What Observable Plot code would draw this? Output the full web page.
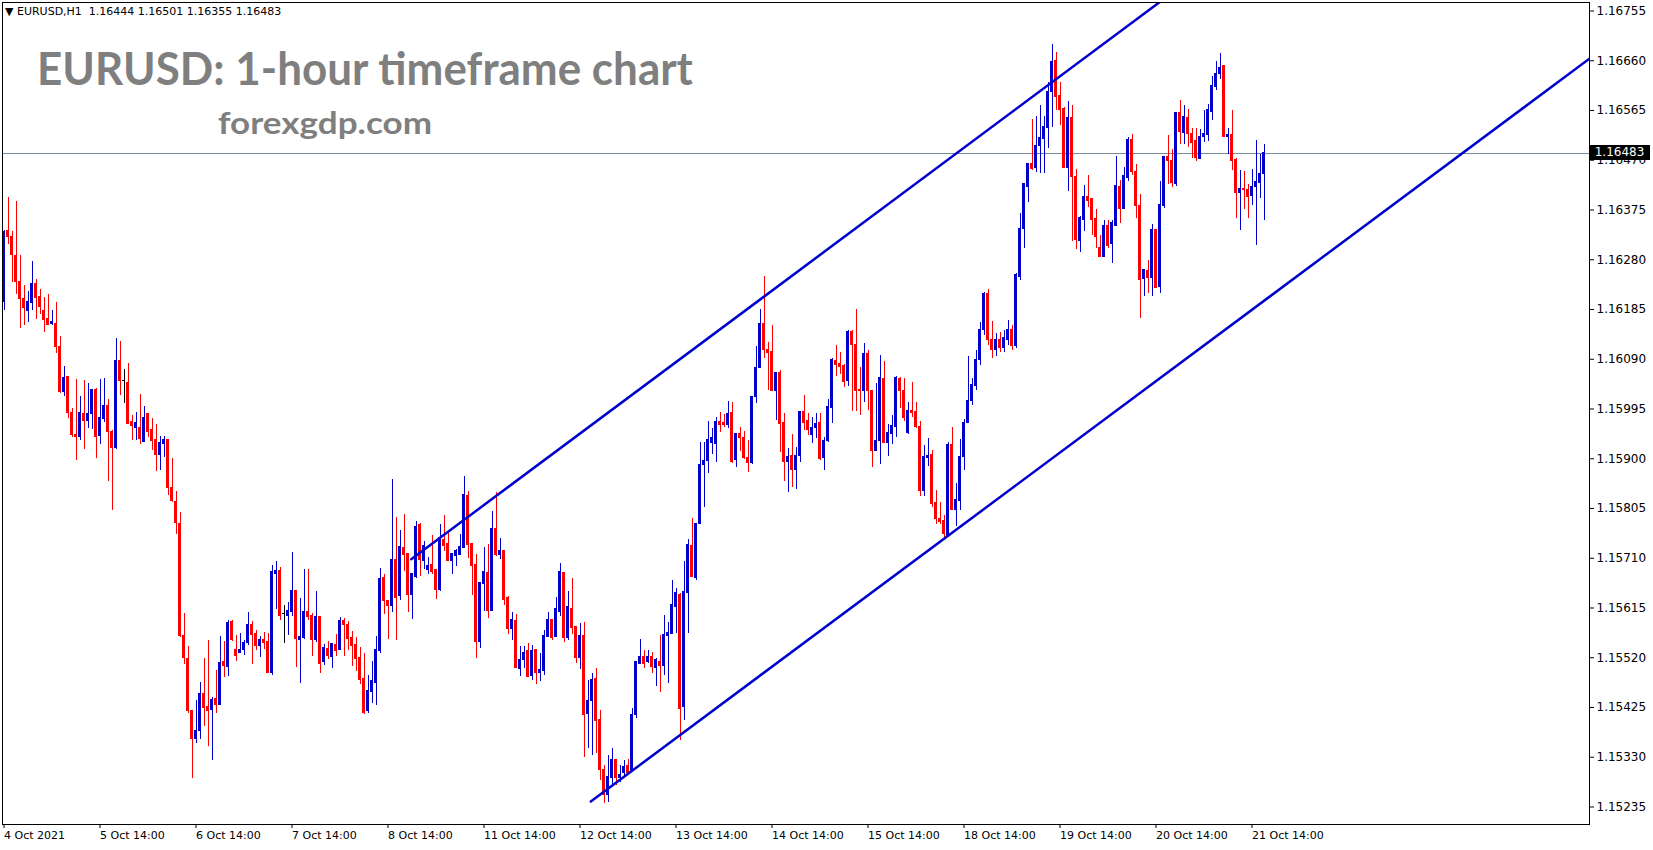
<!DOCTYPE html>
<html><head><meta charset="utf-8">
<script src="https://cdn.jsdelivr.net/npm/d3@7"></script>
<script src="https://cdn.jsdelivr.net/npm/@observablehq/plot@0.6"></script>
<style>
html,body{margin:0;padding:0;background:#fff;}
#wrap{position:relative;width:1653px;height:850px;overflow:hidden;background:#fff;}
#wrap svg{position:absolute;left:0;top:0;}
.ov{position:absolute;white-space:nowrap;transform-origin:0 0;}
#hdr{left:5px;top:5px;font:11px "DejaVu Sans",sans-serif;color:#000;}
#title{left:37px;top:45px;font:700 46px Lato,sans-serif;color:#7f7f7f;line-height:1;}
#site{left:218px;top:107px;font:700 30px Lato,sans-serif;color:#7f7f7f;line-height:1;}
#pbox{left:1589px;width:61px;height:15px;background:#000;color:#fff;font:12px "DejaVu Sans",sans-serif;line-height:15px;text-align:center;}
</style></head><body><div id="wrap">
<div id="hdr" class="ov">▼ EURUSD,H1&nbsp; 1.16444 1.16501 1.16355 1.16483</div>
<div id="title" class="ov">EURUSD: 1-hour timeframe chart</div>
<div id="site" class="ov">forexgdp.com</div>
</div>
<script>
const open = [1.16199,1.16334,1.16323,1.16288,1.16238,1.16205,1.16183,1.16197,1.16233,1.16208,
1.16183,1.16167,1.16157,1.16158,1.16114,1.16028,1.16056,1.15988,1.15945,1.15941,
1.15986,1.15972,1.15986,1.16031,1.15943,1.15975,1.16000,1.15952,1.15921,1.16086,
1.16049,1.16045,1.15971,1.15958,1.15958,1.15932,1.15985,1.15954,1.15935,1.15907,
1.15929,1.15935,1.15844,1.15818,1.15776,1.15562,1.15518,1.15419,1.15364,1.15380,
1.15450,1.15426,1.15421,1.15442,1.15429,1.15512,1.15502,1.15589,1.15535,1.15530,
1.15534,1.15548,1.15583,1.15566,1.15542,1.15553,1.15551,1.15491,1.15679,1.15685,
1.15604,1.15599,1.15608,1.15648,1.15553,1.15558,1.15608,1.15600,1.15553,1.15597,
1.15511,1.15537,1.15522,1.15545,1.15534,1.15591,1.15583,1.15558,1.15545,1.15520,
1.15480,1.15419,1.15455,1.15471,1.15532,1.15673,1.15629,1.15618,1.15707,1.15637,
1.15730,1.15719,1.15639,1.15675,1.15773,1.15705,1.15688,1.15698,1.15688,1.15650,
1.15745,1.15738,1.15704,1.15715,1.15717,1.15730,1.15828,1.15738,1.15698,1.15551,
1.15660,1.15681,1.15610,1.15765,1.15717,1.15723,1.15635,1.15574,1.15591,1.15499,
1.15516,1.15532,1.15486,1.15534,1.15490,1.15494,1.15560,1.15593,1.15560,1.15608,
1.15681,1.15557,1.15614,1.15579,1.15520,1.15562,1.15413,1.15438,1.15480,1.15402,
1.15305,1.15257,1.15291,1.15324,1.15291,1.15299,1.15314,1.15301,1.15410,1.15509,
1.15522,1.15511,1.15522,1.15501,1.15511,1.15505,1.15562,1.15566,1.15616,1.15639,
1.15425,1.15643,1.15734,1.15673,1.15776,1.15889,1.15895,1.15931,1.15929,1.15971,
1.15969,1.15965,1.15988,1.15897,1.15948,1.15939,1.15901,1.15891,1.16017,1.16074,
1.16158,1.16107,1.16103,1.16030,1.16063,1.15969,1.15893,1.15906,1.15878,1.15906,
1.15990,1.15973,1.15946,1.15958,1.15969,1.15901,1.15933,1.15996,1.16086,1.16080,
1.16078,1.16049,1.16142,1.16118,1.16032,1.16029,1.16100,1.16030,1.15914,1.15933,
1.16053,1.15930,1.15947,1.15960,1.16052,1.16030,1.15949,1.15992,1.15989,1.15960,
1.15839,1.15902,1.15908,1.15815,1.15784,1.15782,1.15753,1.15927,1.15803,1.15820,
1.15904,1.15968,1.16011,1.16038,1.16088,1.16145,1.16214,1.16126,1.16107,1.16126,
1.16111,1.16126,1.16145,1.16116,1.16248,1.16338,1.16418,1.16462,1.16455,1.16498,
1.16510,1.16532,1.16601,1.16659,1.16592,1.16567,1.16455,1.16550,1.16438,1.16315,
1.16355,1.16399,1.16396,1.16357,1.16303,1.16286,1.16345,1.16310,1.16345,1.16418,
1.16376,1.16436,1.16508,1.16448,1.16383,1.16244,1.16258,1.16245,1.16336,1.16228,
1.16383,1.16477,1.16468,1.16425,1.16561,1.16522,1.16551,1.16520,1.16506,1.16473,
1.16515,1.16519,1.16562,1.16609,1.16635,1.16650,1.16514,1.16519,1.16471,1.16408,
1.16415,1.16414,1.16401,1.16418,1.16427,1.16444];
const high = [1.16336,1.16399,1.16333,1.16391,1.16288,1.16231,1.16219,1.16277,1.16242,1.16223,
1.16208,1.16213,1.16183,1.16199,1.16133,1.16076,1.16057,1.15996,1.16051,1.16019,
1.16049,1.16043,1.16032,1.16034,1.16051,1.16053,1.16014,1.15953,1.16130,1.16123,
1.16070,1.16082,1.15983,1.15988,1.16023,1.15999,1.15986,1.15977,1.15965,1.15943,
1.15943,1.15937,1.15901,1.15837,1.15797,1.15604,1.15541,1.15419,1.15438,1.15472,
1.15519,1.15552,1.15445,1.15496,1.15560,1.15551,1.15592,1.15591,1.15562,1.15566,
1.15553,1.15607,1.15589,1.15572,1.15560,1.15568,1.15566,1.15697,1.15704,1.15692,
1.15620,1.15625,1.15721,1.15648,1.15633,1.15688,1.15688,1.15604,1.15646,1.15597,
1.15545,1.15551,1.15547,1.15564,1.15597,1.15595,1.15589,1.15570,1.15558,1.15539,
1.15528,1.15486,1.15513,1.15560,1.15690,1.15679,1.15629,1.15860,1.15788,1.15763,
1.15793,1.15719,1.15679,1.15780,1.15776,1.15742,1.15711,1.15753,1.15688,1.15774,
1.15791,1.15757,1.15719,1.15727,1.15755,1.15866,1.15837,1.15738,1.15717,1.15662,
1.15730,1.15736,1.15799,1.15835,1.15748,1.15725,1.15637,1.15606,1.15602,1.15541,
1.15541,1.15547,1.15543,1.15534,1.15528,1.15572,1.15606,1.15593,1.15635,1.15700,
1.15683,1.15646,1.15671,1.15579,1.15585,1.15587,1.15476,1.15490,1.15499,1.15419,
1.15314,1.15333,1.15347,1.15324,1.15314,1.15324,1.15326,1.15423,1.15511,1.15555,
1.15534,1.15534,1.15530,1.15519,1.15562,1.15601,1.15587,1.15667,1.15652,1.15643,
1.15704,1.15746,1.15786,1.15776,1.15931,1.15931,1.15971,1.15958,1.15979,1.15988,
1.15985,1.16009,1.16008,1.15948,1.15960,1.15952,1.15935,1.16019,1.16114,1.16185,
1.16248,1.16122,1.16154,1.16063,1.16068,1.15986,1.15919,1.15946,1.15922,1.15990,
1.16021,1.15986,1.15979,1.15986,1.15986,1.15941,1.16014,1.16092,1.16116,1.16102,
1.16080,1.16145,1.16145,1.16185,1.16075,1.16121,1.16107,1.16030,1.16043,1.16097,
1.16086,1.15966,1.15983,1.16058,1.16056,1.16054,1.16007,1.16045,1.16008,1.15972,
1.15925,1.15939,1.15916,1.15839,1.15817,1.15792,1.15931,1.15960,1.15852,1.15937,
1.15974,1.16095,1.16053,1.16107,1.16160,1.16217,1.16223,1.16162,1.16139,1.16141,
1.16145,1.16164,1.16154,1.16254,1.16368,1.16424,1.16462,1.16548,1.16553,1.16574,
1.16553,1.16619,1.16691,1.16676,1.16619,1.16571,1.16583,1.16574,1.16453,1.16363,
1.16422,1.16441,1.16396,1.16376,1.16326,1.16355,1.16354,1.16355,1.16477,1.16431,
1.16457,1.16514,1.16519,1.16461,1.16404,1.16261,1.16279,1.16347,1.16336,1.16429,
1.16477,1.16517,1.16491,1.16561,1.16584,1.16574,1.16567,1.16530,1.16530,1.16529,
1.16565,1.16576,1.16630,1.16659,1.16673,1.16651,1.16530,1.16565,1.16473,1.16450,
1.16449,1.16424,1.16452,1.16508,1.16481,1.16501];
const low = [1.16183,1.16310,1.16236,1.16214,1.16149,1.16154,1.16160,1.16183,1.16166,1.16175,
1.16142,1.16154,1.16155,1.16101,1.16024,1.16019,1.15977,1.15941,1.15897,1.15934,
1.15918,1.15958,1.15956,1.15900,1.15927,1.15970,1.15857,1.15801,1.15918,1.16021,
1.16005,1.15965,1.15934,1.15935,1.15928,1.15932,1.15941,1.15916,1.15876,1.15878,
1.15903,1.15830,1.15816,1.15755,1.15559,1.15508,1.15413,1.15290,1.15356,1.15364,
1.15389,1.15350,1.15323,1.15414,1.15429,1.15483,1.15485,1.15551,1.15513,1.15530,
1.15524,1.15544,1.15507,1.15534,1.15520,1.15535,1.15491,1.15487,1.15612,1.15592,
1.15548,1.15562,1.15599,1.15501,1.15471,1.15555,1.15591,1.15522,1.15549,1.15490,
1.15505,1.15516,1.15499,1.15522,1.15534,1.15522,1.15534,1.15503,1.15494,1.15469,
1.15411,1.15413,1.15432,1.15429,1.15528,1.15602,1.15555,1.15606,1.15553,1.15629,
1.15685,1.15606,1.15593,1.15671,1.15675,1.15688,1.15679,1.15679,1.15631,1.15646,
1.15723,1.15704,1.15679,1.15694,1.15717,1.15730,1.15709,1.15639,1.15518,1.15537,
1.15608,1.15595,1.15608,1.15713,1.15707,1.15620,1.15564,1.15553,1.15501,1.15484,
1.15499,1.15484,1.15476,1.15469,1.15474,1.15486,1.15560,1.15553,1.15560,1.15599,
1.15549,1.15553,1.15564,1.15509,1.15497,1.15329,1.15346,1.15333,1.15337,1.15286,
1.15242,1.15244,1.15276,1.15276,1.15282,1.15291,1.15297,1.15301,1.15404,1.15509,
1.15499,1.15509,1.15490,1.15465,1.15454,1.15486,1.15471,1.15566,1.15566,1.15362,
1.15400,1.15566,1.15673,1.15667,1.15776,1.15807,1.15872,1.15908,1.15893,1.15950,
1.15960,1.15958,1.15891,1.15883,1.15914,1.15899,1.15874,1.15889,1.16005,1.16074,
1.16091,1.16030,1.16030,1.15973,1.15912,1.15857,1.15836,1.15845,1.15841,1.15893,
1.15954,1.15944,1.15929,1.15938,1.15897,1.15878,1.15931,1.15967,1.16057,1.16061,
1.16037,1.16038,1.15990,1.15991,1.15982,1.16008,1.15992,1.15884,1.15914,1.15889,
1.15930,1.15905,1.15928,1.15941,1.15995,1.15972,1.15947,1.15979,1.15958,1.15827,
1.15828,1.15885,1.15807,1.15775,1.15774,1.15744,1.15750,1.15801,1.15771,1.15801,
1.15878,1.15967,1.16002,1.16030,1.16078,1.16135,1.16116,1.16091,1.16095,1.16103,
1.16103,1.16116,1.16107,1.16111,1.16240,1.16301,1.16390,1.16450,1.16447,1.16445,
1.16445,1.16492,1.16532,1.16565,1.16536,1.16454,1.16411,1.16314,1.16300,1.16294,
1.16334,1.16380,1.16326,1.16301,1.16285,1.16286,1.16302,1.16273,1.16345,1.16350,
1.16376,1.16430,1.16441,1.16358,1.16167,1.16210,1.16215,1.16210,1.16226,1.16215,
1.16377,1.16424,1.16418,1.16420,1.16500,1.16501,1.16495,1.16473,1.16468,1.16473,
1.16504,1.16506,1.16546,1.16603,1.16624,1.16514,1.16481,1.16450,1.16359,1.16336,
1.16375,1.16358,1.16383,1.16307,1.16397,1.16355];
const close = [1.16333,1.16323,1.16290,1.16238,1.16205,1.16187,1.16199,1.16233,1.16207,1.16189,
1.16165,1.16156,1.16161,1.16113,1.16028,1.16055,1.15987,1.15945,1.15941,1.15988,
1.15972,1.15986,1.16032,1.15941,1.15977,1.16001,1.15951,1.15920,1.16086,1.16048,
1.16049,1.15967,1.15962,1.15969,1.15938,1.15977,1.15951,1.15934,1.15908,1.15931,
1.15935,1.15844,1.15819,1.15777,1.15561,1.15519,1.15418,1.15364,1.15381,1.15450,
1.15424,1.15418,1.15440,1.15429,1.15510,1.15504,1.15587,1.15553,1.15524,1.15535,
1.15549,1.15583,1.15564,1.15542,1.15553,1.15549,1.15491,1.15683,1.15685,1.15599,
1.15604,1.15610,1.15648,1.15555,1.15560,1.15608,1.15598,1.15553,1.15598,1.15509,
1.15539,1.15524,1.15547,1.15532,1.15591,1.15582,1.15555,1.15543,1.15518,1.15478,
1.15415,1.15457,1.15476,1.15534,1.15671,1.15629,1.15618,1.15707,1.15635,1.15732,
1.15717,1.15639,1.15679,1.15769,1.15707,1.15734,1.15696,1.15683,1.15650,1.15749,
1.15734,1.15704,1.15719,1.15723,1.15732,1.15830,1.15736,1.15696,1.15551,1.15662,
1.15683,1.15610,1.15765,1.15717,1.15723,1.15631,1.15574,1.15593,1.15501,1.15515,
1.15530,1.15484,1.15532,1.15490,1.15497,1.15562,1.15593,1.15558,1.15614,1.15683,
1.15558,1.15616,1.15576,1.15520,1.15562,1.15410,1.15438,1.15478,1.15400,1.15305,
1.15257,1.15293,1.15324,1.15291,1.15297,1.15312,1.15299,1.15410,1.15511,1.15522,
1.15509,1.15522,1.15503,1.15515,1.15505,1.15564,1.15568,1.15620,1.15643,1.15423,
1.15645,1.15736,1.15675,1.15776,1.15889,1.15895,1.15935,1.15939,1.15971,1.15964,
1.15965,1.15986,1.15893,1.15948,1.15939,1.15901,1.15891,1.16017,1.16074,1.16158,
1.16107,1.16101,1.16030,1.16063,1.15967,1.15893,1.15904,1.15879,1.15906,1.15990,
1.15969,1.15954,1.15958,1.15967,1.15899,1.15934,1.15998,1.16088,1.16079,1.16076,
1.16047,1.16142,1.16118,1.16029,1.16029,1.16100,1.16030,1.15914,1.15933,1.16055,
1.15930,1.15949,1.15962,1.16054,1.16029,1.15977,1.15992,1.15987,1.15960,1.15839,
1.15904,1.15906,1.15813,1.15784,1.15779,1.15757,1.15927,1.15803,1.15822,1.15904,
1.15969,1.16011,1.16040,1.16088,1.16145,1.16214,1.16126,1.16107,1.16126,1.16111,
1.16130,1.16145,1.16116,1.16250,1.16339,1.16424,1.16462,1.16453,1.16498,1.16512,
1.16534,1.16601,1.16657,1.16590,1.16565,1.16455,1.16551,1.16438,1.16317,1.16359,
1.16399,1.16393,1.16355,1.16323,1.16286,1.16345,1.16307,1.16350,1.16420,1.16376,
1.16440,1.16508,1.16447,1.16383,1.16242,1.16261,1.16245,1.16336,1.16226,1.16385,
1.16477,1.16468,1.16426,1.16561,1.16524,1.16553,1.16520,1.16502,1.16474,1.16515,
1.16520,1.16565,1.16611,1.16635,1.16646,1.16514,1.16519,1.16469,1.16407,1.16415,
1.16413,1.16399,1.16418,1.16428,1.16443,1.16483];

const dateTicks = [0,24,48,72,96,120,144,168,192,216,240,264,288,312];
const dateLabels = ["4 Oct 2021","5 Oct 14:00","6 Oct 14:00","7 Oct 14:00","8 Oct 14:00","11 Oct 14:00","12 Oct 14:00","13 Oct 14:00","14 Oct 14:00","15 Oct 14:00","18 Oct 14:00","19 Oct 14:00","20 Oct 14:00","21 Oct 14:00"];
const priceTicks = [1.15235,1.15330,1.15425,1.15520,1.15615,1.15710,1.15805,1.15900,1.15995,1.16090,1.16185,1.16280,1.16375,1.16470,1.16565,1.16660,1.16755];
const lastPrice = 1.16483;
const upperIdx = [101.8, 300], upperPrice = [1.157082, 1.16835];
const lowerIdx = [146.7, 397], lowerPrice = [1.152455, 1.166675];

const BLUE = "#0000cd", RED = "#ff0000";
const bars = open.map((o, i) => ({i, o, h: high[i], l: low[i], c: close[i]}));
const col = d => d.c > d.o ? BLUE : d.c < d.o ? RED : "#000000";
const upper = upperIdx.map((i, k) => ({i, p: upperPrice[k]}));
const lower = lowerIdx.map((i, k) => ({i, p: lowerPrice[k]}));

const chart = Plot.plot({
  width: 1653, height: 850,
  marginLeft: 2, marginRight: 64, marginTop: 2, marginBottom: 26,
  style: {background: "transparent", color: "#000", fontFamily: "DejaVu Sans", overflow: "visible"},
  x: {type: "linear", domain: [-0.375, 396.375], axis: null, label: null},
  y: {type: "linear", domain: [1.1520157, 1.1677123], axis: null, label: null},
  marks: [
    Plot.ruleY([lastPrice], {stroke: "#778899", strokeWidth: 1, shapeRendering: "crispEdges"}),
    Plot.ruleX(bars, {x: "i", y1: "l", y2: "h", stroke: col, strokeWidth: 1, shapeRendering: "crispEdges"}),
    Plot.rect(bars, {x1: d => d.i - 0.375, x2: d => d.i + 0.375, y1: d => Math.min(d.o, d.c), y2: d => Math.max(d.o, d.c),
      fill: col, insetTop: -0.5, insetBottom: -0.5, shapeRendering: "crispEdges"}),
    Plot.line(upper, {x: "i", y: "p", stroke: BLUE, strokeWidth: 2.5, clip: true}),
    Plot.line(lower, {x: "i", y: "p", stroke: BLUE, strokeWidth: 2.5, clip: true}),
    Plot.frame({stroke: "#000", strokeWidth: 1}),
    Plot.axisY(priceTicks, {anchor: "right", label: null, tickSize: 4, tickPadding: 3, tickFormat: d => d.toFixed(5), fontSize: 12, stroke: "#000", fill: "#000"}),
    Plot.axisX(dateTicks, {anchor: "bottom", label: null, tickSize: 4, tickPadding: 3, tickFormat: d => dateLabels[dateTicks.indexOf(d)], textAnchor: "start", dx: 0, fontSize: 11, stroke: "#000", fill: "#000"})
  ]
});
const wrap = document.getElementById("wrap");
wrap.insertBefore(chart, wrap.firstChild);

const ypix = chart.scale("y").apply(lastPrice);
const box = document.createElement("div");
box.id = "pbox"; box.className = "ov";
box.style.top = (ypix - 7.5) + "px";
box.textContent = lastPrice.toFixed(5);
wrap.appendChild(box);

function fit(id, w) {
  const el = document.getElementById(id);
  const r = el.getBoundingClientRect();
  el.style.transform = `scaleX(${w / r.width})`;
}
fit("title", 656);
fit("site", 214);
</script>
</body></html>
